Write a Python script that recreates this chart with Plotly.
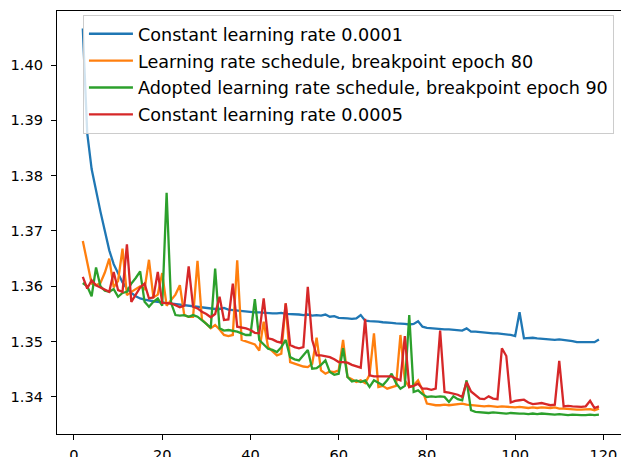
import plotly.graph_objects as go

# Validation loss per epoch for four learning-rate strategies
epochs = list(range(2, 120))

const_lr_1e4 = [
    1.4066, 1.3877, 1.3812, 1.3770, 1.3735, 1.3700, 1.3665, 1.3640, 1.3622, 1.3607,
    1.3596, 1.3588, 1.3582, 1.3578, 1.3576, 1.3574, 1.3573, 1.3572, 1.3571, 1.3570,
    1.3568, 1.3567, 1.3566, 1.3565, 1.3564, 1.3563, 1.3563, 1.3562, 1.3561, 1.3560,
    1.3559, 1.3559, 1.3561, 1.3558, 1.3557, 1.3557, 1.3556, 1.3555, 1.3554, 1.3553,
    1.3553, 1.3552, 1.3552, 1.3551, 1.3551, 1.3552, 1.3550, 1.3550, 1.3549, 1.3549,
    1.3548, 1.3549, 1.3547, 1.3548, 1.3547, 1.3549, 1.3545, 1.3546, 1.3543, 1.3543,
    1.3542, 1.3541, 1.3542, 1.3548, 1.3538, 1.3537, 1.3537, 1.3536, 1.3535, 1.3535,
    1.3534, 1.3533, 1.3533, 1.3532, 1.3531, 1.3532, 1.3537, 1.3527, 1.3525, 1.3524,
    1.3523, 1.3523, 1.3522, 1.3522, 1.3521, 1.3520, 1.3520, 1.3524, 1.3518, 1.3518,
    1.3517, 1.3516, 1.3516, 1.3515, 1.3515, 1.3514, 1.3514, 1.3512, 1.3510, 1.3553,
    1.3506, 1.3507, 1.3507, 1.3506, 1.3505, 1.3505, 1.3504, 1.3503, 1.3504, 1.3503,
    1.3503, 1.3501, 1.3499, 1.3499, 1.3499, 1.3499, 1.3499, 1.3504,
]

schedule_bp80 = [
    1.3682, 1.3640, 1.3605, 1.3602, 1.3606, 1.3625, 1.3650, 1.3598, 1.3610, 1.3668,
    1.3584, 1.3590, 1.3595, 1.3600, 1.3595, 1.3648, 1.3580, 1.3585, 1.3624, 1.3565,
    1.3575, 1.3585, 1.3602, 1.3548, 1.3545, 1.3545, 1.3646, 1.3540, 1.3532, 1.3524,
    1.3530, 1.3522, 1.3512, 1.3510, 1.3512, 1.3647, 1.3503, 1.3500, 1.3497, 1.3495,
    1.3484, 1.3536, 1.3490, 1.3483, 1.3475, 1.3478, 1.3569, 1.3463, 1.3460, 1.3458,
    1.3455, 1.3454, 1.3460, 1.3507, 1.3448, 1.3442, 1.3446, 1.3445, 1.3448, 1.3503,
    1.3436, 1.3432, 1.3427, 1.3430, 1.3425, 1.3440, 1.3515, 1.3418, 1.3420, 1.3415,
    1.3418, 1.3420, 1.3512, 1.3430, 1.3418, 1.3421, 1.3430, 1.3412, 1.3388, 1.3386,
    1.3385, 1.3385, 1.3386, 1.3385, 1.3386, 1.3387, 1.3388, 1.3386, 1.3385, 1.3384,
    1.3384, 1.3383, 1.3384, 1.3383, 1.3382, 1.3383, 1.3382, 1.3382, 1.3381, 1.3382,
    1.3381, 1.3380, 1.3381, 1.3380, 1.3381, 1.3380, 1.3380, 1.3381, 1.3379, 1.3379,
    1.3378, 1.3378, 1.3377, 1.3377, 1.3377, 1.3378, 1.3376, 1.3379,
]

adopted_bp90 = [
    1.3606, 1.3600, 1.3582, 1.3634, 1.3600, 1.3592, 1.3590, 1.3595, 1.3581, 1.3588,
    1.3590, 1.3605, 1.3615, 1.3627, 1.3572, 1.3563, 1.3572, 1.3578, 1.3565, 1.3769,
    1.3570, 1.3548, 1.3547, 1.3548, 1.3545, 1.3548, 1.3545, 1.3539, 1.3532, 1.3525,
    1.3632, 1.3524, 1.3520, 1.3521, 1.3520, 1.3518, 1.3515, 1.3512, 1.3512, 1.3577,
    1.3503, 1.3495, 1.3487, 1.3485, 1.3481, 1.3490, 1.3503, 1.3472, 1.3468, 1.3466,
    1.3475, 1.3485, 1.3451, 1.3452, 1.3458, 1.3466, 1.3445, 1.3440, 1.3442, 1.3488,
    1.3436, 1.3428, 1.3430, 1.3427, 1.3430, 1.3418, 1.3430, 1.3425, 1.3421, 1.3430,
    1.3442, 1.3425, 1.3415, 1.3420, 1.3548, 1.3409, 1.3412, 1.3405, 1.3400, 1.3401,
    1.3400, 1.3401, 1.3400, 1.3391, 1.3401, 1.3396, 1.3394, 1.3430, 1.3376, 1.3373,
    1.3372, 1.3372, 1.3371, 1.3372, 1.3371, 1.3371, 1.3370, 1.3371, 1.3370, 1.3370,
    1.3370, 1.3369, 1.3370, 1.3369, 1.3370, 1.3369, 1.3369, 1.3368, 1.3369, 1.3368,
    1.3367, 1.3368, 1.3367, 1.3367, 1.3367, 1.3368, 1.3367, 1.3368,
]

const_lr_5e4 = [
    1.3617, 1.3596, 1.3611, 1.3602, 1.3598, 1.3594, 1.3590, 1.3626, 1.3593, 1.3590,
    1.3676, 1.3572, 1.3585, 1.3598, 1.3605, 1.3578, 1.3580, 1.3626, 1.3570, 1.3570,
    1.3569, 1.3566, 1.3562, 1.3565, 1.3636, 1.3563, 1.3560, 1.3554, 1.3550, 1.3544,
    1.3550, 1.3581, 1.3539, 1.3540, 1.3605, 1.3527, 1.3526, 1.3524, 1.3521, 1.3516,
    1.3515, 1.3578, 1.3506, 1.3504, 1.3500, 1.3498, 1.3569, 1.3494, 1.3490, 1.3488,
    1.3490, 1.3599, 1.3503, 1.3475, 1.3475, 1.3474, 1.3472, 1.3468, 1.3463, 1.3463,
    1.3462, 1.3458, 1.3455, 1.3453, 1.3541, 1.3439, 1.3437, 1.3437, 1.3436, 1.3436,
    1.3437, 1.3433, 1.3430, 1.3510, 1.3418, 1.3420, 1.3424, 1.3415, 1.3415, 1.3413,
    1.3415, 1.3520, 1.3409, 1.3408, 1.3406, 1.3404, 1.3400, 1.3427, 1.3410, 1.3403,
    1.3397, 1.3396, 1.3401, 1.3397, 1.3396, 1.3488, 1.3474, 1.3390, 1.3393, 1.3394,
    1.3395, 1.3390, 1.3387, 1.3388, 1.3389, 1.3387, 1.3385, 1.3386, 1.3465, 1.3383,
    1.3384, 1.3383, 1.3382, 1.3382, 1.3383, 1.3393, 1.3380, 1.3383,
]

series_names = [
    "Constant learning rate 0.0001",
    "Learning rate schedule, breakpoint epoch 80",
    "Adopted learning rate schedule, breakpoint epoch 90",
    "Constant learning rate 0.0005",
]
series_values = [const_lr_1e4, schedule_bp80, adopted_bp90, const_lr_5e4]
series_colors = ["#1f77b4", "#ff7f0e", "#2ca02c", "#d62728"]

x_ticks = [0, 20, 40, 60, 80, 100, 120]
y_ticks = [1.34, 1.35, 1.36, 1.37, 1.38, 1.39, 1.40]

FONT = "DejaVu Sans"
TICK_SIZE = 14.6
LEGEND_SIZE = 17.6

fig = go.Figure()
for i, (name, vals, color) in enumerate(zip(series_names, series_values, series_colors)):
    fig.add_trace(go.Scatter(
        x=epochs, y=vals, mode="lines", name=name,
        legendgroup=f"g{i}",
        line=dict(color=color, width=2.3),
    ))

axis_common = dict(
    showgrid=False, zeroline=False,
    showline=True, linecolor="#000000", linewidth=1.1,
    ticks="outside", ticklen=5, tickwidth=1.1, tickcolor="#000000",
    tickfont=dict(family=FONT, size=TICK_SIZE, color="#000000"),
)

fig.update_xaxes(range=[-3.85, 124.0], tickvals=x_ticks, mirror=True,
                 automargin=False, ticklabelstandoff=2, **axis_common)
fig.update_yaxes(range=[1.33330, 1.40977], tickvals=y_ticks, tickformat=".2f",
                 automargin=False, ticklabelstandoff=5, **axis_common)

fig.update_layout(
    width=621, height=457,
    margin=dict(l=57, r=0, t=11, b=23),
    paper_bgcolor="white", plot_bgcolor="white",
    font=dict(family=FONT, size=TICK_SIZE, color="#000000"),
    showlegend=True,
    legend=dict(
        x=0.046, y=0.991, xanchor="left", yanchor="top",
        bgcolor="rgba(255,255,255,0.8)", bordercolor="#cccccc", borderwidth=1,
        font=dict(family=FONT, size=LEGEND_SIZE, color="#000000"),
        tracegroupgap=1, itemwidth=44,
    ),
)

fig.write_html("out.html")
